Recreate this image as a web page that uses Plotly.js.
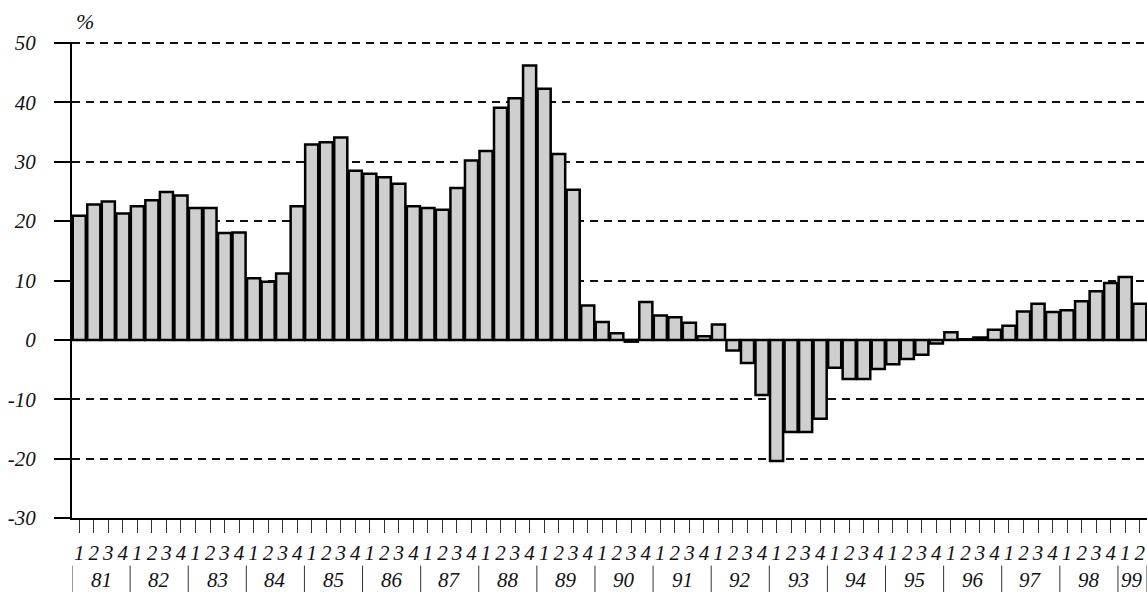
<!DOCTYPE html>
<html>
<head>
<meta charset="utf-8">
<script src="https://cdn.plot.ly/plotly-3.0.1.min.js"></script>
<style>html,body{margin:0;padding:0;background:#fff;}#chart{width:1147px;height:592px;}</style>
</head>
<body>
<div id="chart"></div>
<script>
// Year labels (two-digit) and number of quarters shown for each year
var years = ['81','82','83','84','85','86','87','88','89','90','91','92','93','94','95','96','97','98','99'];
var quartersPerYear = [4,4,4,4,4,4,4,4,4,4,4,4,4,4,4,4,4,4,2];
var quarterLabels = ['1','2','3','4'];

// Year-on-year change, %, by quarter
var values = [
  20.9, 22.8, 23.3, 21.3,   // 81
  22.5, 23.5, 24.9, 24.3,   // 82
  22.2, 22.2, 18.0, 18.1,   // 83
  10.4,  9.8, 11.2, 22.5,   // 84
  32.9, 33.3, 34.1, 28.5,   // 85
  28.0, 27.4, 26.3, 22.5,   // 86
  22.2, 21.9, 25.6, 30.2,   // 87
  31.8, 39.1, 40.7, 46.2,   // 88
  42.3, 31.3, 25.3,  5.8,   // 89
   3.0,  1.1, -0.3,  6.4,   // 90
   4.1,  3.8,  2.9,  0.6,   // 91
   2.6, -1.8, -3.9, -9.3,   // 92
 -20.4,-15.5,-15.5,-13.3,   // 93
  -4.7, -6.6, -6.6, -4.9,   // 94
  -4.1, -3.2, -2.5, -0.6,   // 95
   1.3,  0.1,  0.4,  1.7,   // 96
   2.4,  4.8,  6.1,  4.7,   // 97
   5.0,  6.5,  8.2,  9.6,   // 98
  10.6,  6.1                // 99
];

var yTicks = [-30,-20,-10,0,10,20,30,40,50];
var yTickText = ['-30','-20','-10','0','10','20','30','40','50'];

// Build positions and labels
var xs = [], tickText = [], annotations = [], shapes = [];
var serif = 'Liberation Serif, Times New Roman, serif';
var idx = 0;
for (var y = 0; y < years.length; y++) {
  var start = idx;
  for (var q = 0; q < quartersPerYear[y]; q++) {
    xs.push(idx);
    tickText.push(quarterLabels[q]);
    idx++;
  }
  var end = idx - 1;
  annotations.push({
    x: (start + end) / 2, xref: 'x', y: -0.1305, yref: 'paper',
    text: years[y], showarrow: false, xanchor: 'center', yanchor: 'middle',
    font: {family: serif, size: 21, color: '#111', style: 'italic'}
  });
  shapes.push({type: 'line', xref: 'x', yref: 'paper', x0: start - 0.5, x1: start - 0.5,
    y0: -0.1, y1: -0.16, line: {color: '#333', width: 1}});
}
shapes.push({type: 'line', xref: 'x', yref: 'paper', x0: idx - 0.5, x1: idx - 0.5,
  y0: -0.1, y1: -0.16, line: {color: '#333', width: 1}});

annotations.push({
  x: 0.012, xref: 'paper', y: 1.044, yref: 'paper', text: '%', showarrow: false,
  xanchor: 'center', yanchor: 'middle',
  font: {family: serif, size: 22, color: '#111', style: 'italic'}
});

var trace = {
  type: 'bar', x: xs, y: values,
  marker: {color: '#cfcfcf', line: {color: '#000', width: 2.5}},
  hoverinfo: 'y'
};

var layout = {
  width: 1147, height: 592,
  margin: {l: 72, r: 0, t: 42, b: 74, pad: 0},
  paper_bgcolor: '#fff', plot_bgcolor: '#fff',
  showlegend: false,
  bargap: 0.1,
  xaxis: {
    range: [-0.5, xs.length - 0.5],
    tickmode: 'array', tickvals: xs, ticktext: tickText,
    ticks: 'outside', ticklen: 13, tickwidth: 1, tickcolor: '#333',
    tickfont: {family: serif, size: 21, color: '#111', style: 'italic'},
    ticklabelstandoff: 2,
    showgrid: false, zeroline: false,
    showline: true, linecolor: '#000', linewidth: 2
  },
  yaxis: {
    range: [-30, 50.17], tickmode: 'array', tickvals: yTicks, ticktext: yTickText,
    ticks: 'outside', ticklen: 16, tickwidth: 2, tickcolor: '#000',
    tickfont: {family: serif, size: 21, color: '#111', style: 'italic'},
    ticklabelstandoff: 14,
    showgrid: true, gridcolor: '#111', gridwidth: 2, griddash: '8px,6px',
    zeroline: true, zerolinecolor: '#000', zerolinewidth: 2,
    showline: true, linecolor: '#000', linewidth: 2
  },
  annotations: annotations,
  shapes: shapes
};

Plotly.newPlot('chart', [trace], layout, {displayModeBar: false, staticPlot: true});
</script>
</body>
</html>
